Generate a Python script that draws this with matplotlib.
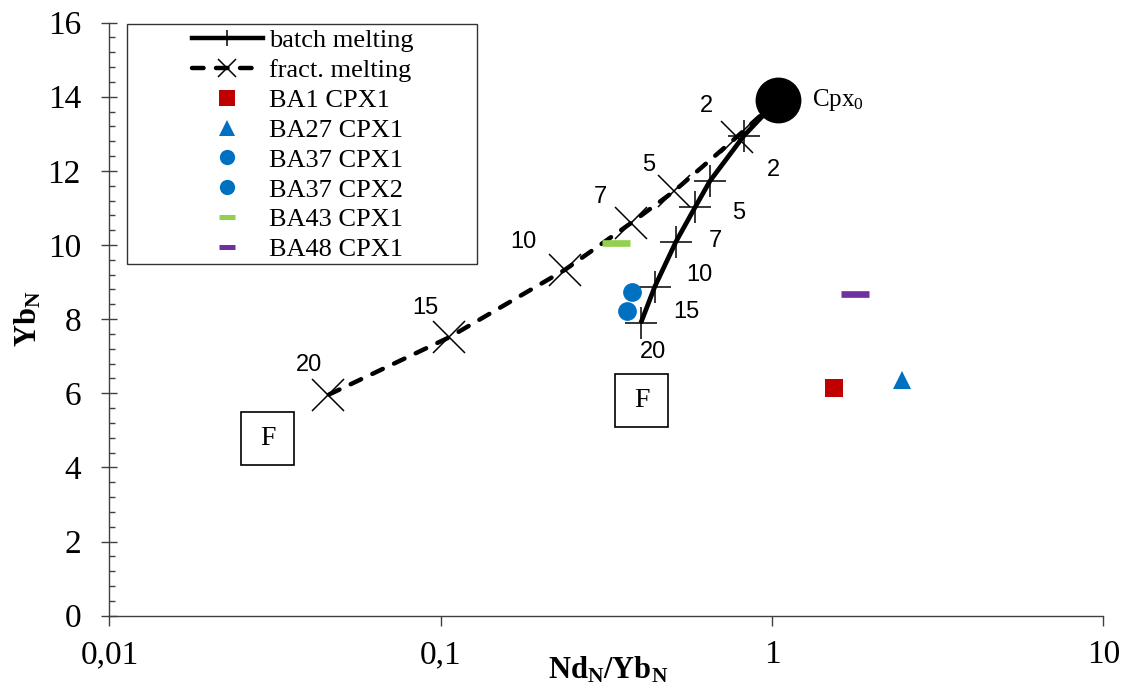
import matplotlib
matplotlib.use("Agg")
import matplotlib.pyplot as plt
from matplotlib.lines import Line2D
from matplotlib.patches import Rectangle
from matplotlib import transforms
from matplotlib.ticker import FixedLocator, FixedFormatter, MultipleLocator

plt.rcParams["font.family"] = ["Liberation Serif", "DejaVu Serif"]
plt.rcParams["mathtext.fontset"] = "custom"
plt.rcParams["mathtext.rm"] = "Liberation Serif"
plt.rcParams["mathtext.it"] = "Liberation Serif:italic"
plt.rcParams["mathtext.bf"] = "Liberation Serif:bold"

# Starting clinopyroxene (Cpx0)
cpx0_x = 1.04
cpx0_y = 13.91

# Melting models, degree of melting in %
melt_pct = [2, 5, 7, 10, 15, 20]
batch_x = [0.823, 0.650, 0.586, 0.513, 0.443, 0.402]
batch_y = [12.95, 11.73, 11.02, 10.09, 8.88, 7.90]
fract_x = [0.782, 0.506, 0.375, 0.237, 0.1061, 0.0456]
fract_y = [12.91, 11.45, 10.59, 9.33, 7.51, 5.95]

# Measured clinopyroxenes
samples = ["BA1 CPX1", "BA27 CPX1", "BA37 CPX1", "BA37 CPX2", "BA43 CPX1", "BA48 CPX1"]
sample_x = [1.542, 2.474, 0.377, 0.364, 0.337, 1.780]
sample_y = [6.13, 6.36, 8.74, 8.23, 10.06, 8.67]

# "F" boxes
field_x = [0.0301, 0.405]
field_y = [4.77, 5.81]

x_ticks = [0.01, 0.1, 1, 10]
x_tick_labels = ["0,01", "0,1", "1", "10"]
y_ticks = [0, 2, 4, 6, 8, 10, 12, 14, 16]

# styles
sample_markers = ["s", "^", "o", "o", "_", "_"]
sample_colors = ["#C00000", "#0070C0", "#0070C0", "#0070C0", "#92D050", "#7030A0"]
sample_sizes = [13.5, 13.5, 13.5, 13.5, 20, 20]
sample_mew = [0, 0, 0, 0, 4.8, 4.8]
legend_sizes = [12, 12, 11, 11, 12, 12]
legend_mew = [0, 0, 0, 0, 3.6, 3.6]
batch_label_offsets = [(29, -34), (29, -32), (20, -34), (23, -33), (32, -25), (12, -29)]
fract_label_offsets = [(-30, 31), (-25, 26), (-31, 26), (-41, 28), (-24, 29), (-19, 30)]

W, H = 1131, 690
fig = plt.figure(figsize=(W / 100, H / 100), dpi=100)
ax = fig.add_axes([109.4 / W, (H - 615.7) / H, (1103.3 - 109.4) / W, (615.7 - 22.6) / H])

ax.set_xscale("log")
ax.set_xlim(0.01, 10)
ax.set_ylim(0, 16)

axis_col = "#404040"
for s in ["top", "right"]:
    ax.spines[s].set_visible(False)
for s in ["left", "bottom"]:
    ax.spines[s].set_color(axis_col)
    ax.spines[s].set_linewidth(1.0)

ax.xaxis.set_major_locator(FixedLocator(x_ticks))
ax.xaxis.set_major_formatter(FixedFormatter(x_tick_labels))
ax.xaxis.set_minor_locator(FixedLocator([]))
ax.yaxis.set_major_locator(FixedLocator(y_ticks))
ax.yaxis.set_minor_locator(MultipleLocator(0.4))
ax.tick_params(axis="x", which="major", direction="out", length=7.2, width=1.0,
               color=axis_col, labelsize=24, pad=10)
ax.tick_params(axis="y", which="major", direction="inout", length=11, width=1.0,
               color=axis_col, labelsize=24, pad=15)
ax.tick_params(axis="y", which="minor", direction="in", length=4, width=1.0, color=axis_col)

ax.set_xlabel(r"$\mathbf{Nd_N/Yb_N}$", fontsize=22)
ax.xaxis.label.set_va("center")
ax.xaxis.set_label_coords(0.5017, -0.0916)
ax.set_ylabel(r"$\mathbf{Yb_N}$", fontsize=22)
ax.yaxis.label.set_va("center")
ax.yaxis.set_label_coords(-0.0819, 0.50)

# melting curves, both starting at Cpx0
bx = [cpx0_x] + batch_x
by = [cpx0_y] + batch_y
fx = [cpx0_x] + fract_x
fy = [cpx0_y] + fract_y
every = list(range(1, len(bx)))
ax.plot(fx, fy, color="black", lw=3.2, linestyle=(0, (2.6, 2.8)), dash_capstyle="round",
        marker="x", markersize=23, markeredgewidth=1.1, markevery=every, zorder=3)
ax.plot(bx, by, color="black", lw=3.4, solid_capstyle="butt",
        marker="+", markersize=23, markeredgewidth=1.1, markevery=every, zorder=3)

for i, p in enumerate(melt_pct):
    ax.annotate(str(p), (batch_x[i], batch_y[i]), xytext=batch_label_offsets[i],
                textcoords="offset pixels", ha="center", va="center",
                fontsize=17, family="Liberation Sans")
    ax.annotate(str(p), (fract_x[i], fract_y[i]), xytext=fract_label_offsets[i],
                textcoords="offset pixels", ha="center", va="center",
                fontsize=17, family="Liberation Sans")

# Cpx0
ax.plot([cpx0_x], [cpx0_y], "o", color="black", markersize=32, zorder=4)
ax.annotate(r"Cpx$_0$", (cpx0_x, cpx0_y), xytext=(34, 0), textcoords="offset pixels",
            ha="left", va="center", fontsize=18)

# samples
for i in range(len(samples)):
    ax.plot([sample_x[i]], [sample_y[i]], linestyle="none", marker=sample_markers[i],
            markersize=sample_sizes[i], color=sample_colors[i],
            markeredgewidth=sample_mew[i], zorder=5)

# F boxes
box = 53 / 100.0
for x, y in zip(field_x, field_y):
    tr = fig.dpi_scale_trans + transforms.ScaledTranslation(x, y, ax.transData)
    ax.add_patch(Rectangle((-box / 2, -box / 2), box, box, transform=tr, fill=False,
                           edgecolor="black", linewidth=1.2, clip_on=False))
    ax.text(x, y, "F", ha="center", va="center", fontsize=20)

# legend
handles = [
    Line2D([], [], color="black", lw=3.2, marker="+", markersize=11, markeredgewidth=1.1),
    Line2D([], [], color="black", lw=3.2, linestyle=(0, (2.6, 2.8)), dash_capstyle="round",
           marker="x", markersize=13, markeredgewidth=1.1),
]
for i in range(len(samples)):
    handles.append(Line2D([], [], linestyle="none", marker=sample_markers[i],
                          markersize=legend_sizes[i], color=sample_colors[i],
                          markeredgewidth=legend_mew[i]))
labels = ["batch melting", "fract. melting"] + samples
leg = fig.legend(handles, labels, loc="upper left",
                 bbox_to_anchor=(191.7 / W, (H - 29) / H), frameon=False,
                 fontsize=19, borderpad=0, handlelength=2.71, handletextpad=0.23,
                 labelspacing=0.24, numpoints=1, borderaxespad=0)
fig.add_artist(Rectangle((127.3 / W, (H - 264.3) / H), 350 / W, 240 / H,
                         transform=fig.transFigure, fill=False, edgecolor="#333333",
                         linewidth=1.0))

fig.savefig("out.png", dpi=100)
